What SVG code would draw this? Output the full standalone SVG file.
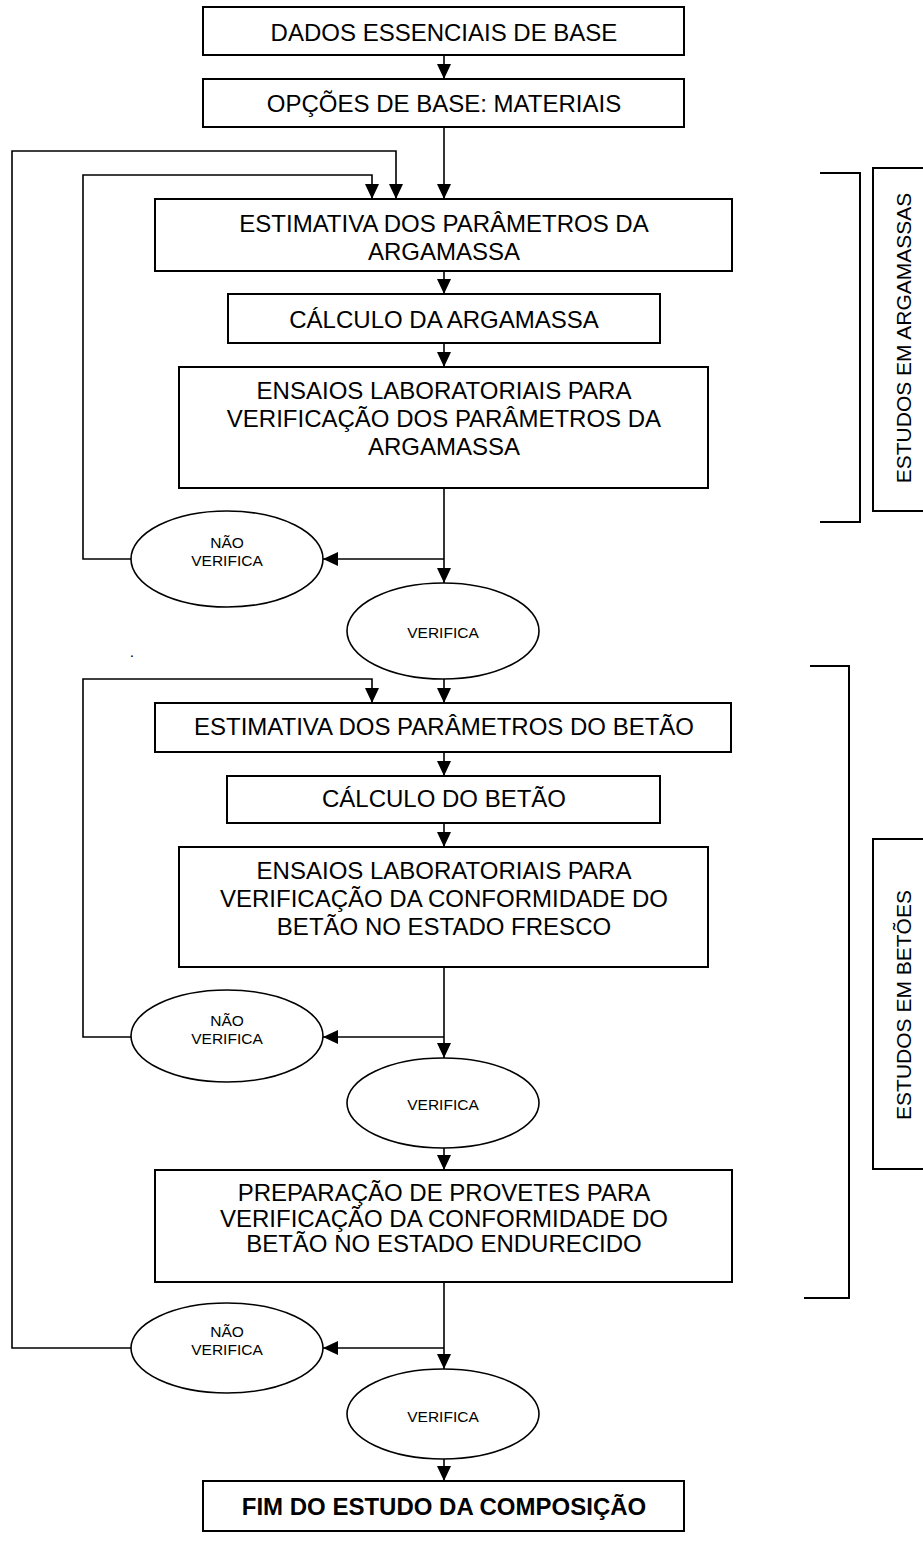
<svg xmlns="http://www.w3.org/2000/svg" width="923" height="1564" viewBox="0 0 923 1564">
<style>
.bx{fill:#fff;stroke:#000;stroke-width:2}
.el{fill:#fff;stroke:#000;stroke-width:1.6}
.ln{fill:none;stroke:#000;stroke-width:1.6}
.br{fill:none;stroke:#000;stroke-width:2}
.t{font-family:"Liberation Sans",Arial,sans-serif;font-size:24px;text-anchor:middle;fill:#000}
.s{font-family:"Liberation Sans",Arial,sans-serif;font-size:15.5px;text-anchor:middle;fill:#000}
.r{font-family:"Liberation Sans",Arial,sans-serif;font-size:21px;text-anchor:middle;fill:#000}
.b{font-weight:bold}
</style>
<defs>
<marker id="ah" markerWidth="15" markerHeight="14" refX="15" refY="7" orient="auto" markerUnits="userSpaceOnUse">
<path d="M0,0 L15,7 L0,14 Z" fill="#000"/>
</marker>
</defs>
<g id="connectors">
<path class="ln" d="M444,55 V79" marker-end="url(#ah)"/>
<path class="ln" d="M444,127 V199" marker-end="url(#ah)"/>
<path class="ln" d="M131,1348 H12 V151 H396 V199" marker-end="url(#ah)"/>
<path class="ln" d="M131,559 H83 V175 H372 V199" marker-end="url(#ah)"/>
<path class="ln" d="M444,271 V294" marker-end="url(#ah)"/>
<path class="ln" d="M444,343 V367" marker-end="url(#ah)"/>
<path class="ln" d="M444,488 V583" marker-end="url(#ah)"/>
<path class="ln" d="M444,559 H323" marker-end="url(#ah)"/>
<path class="ln" d="M444,679 V703" marker-end="url(#ah)"/>
<path class="ln" d="M131,1037 H83 V679 H372 V703" marker-end="url(#ah)"/>
<path class="ln" d="M444,752 V776" marker-end="url(#ah)"/>
<path class="ln" d="M444,823 V847" marker-end="url(#ah)"/>
<path class="ln" d="M444,967 V1058" marker-end="url(#ah)"/>
<path class="ln" d="M444,1037 H323" marker-end="url(#ah)"/>
<path class="ln" d="M444,1148 V1170" marker-end="url(#ah)"/>
<path class="ln" d="M444,1282 V1369" marker-end="url(#ah)"/>
<path class="ln" d="M444,1348 H323" marker-end="url(#ah)"/>
<path class="ln" d="M444,1459 V1481" marker-end="url(#ah)"/>
</g>
<g id="n1"><rect class="bx" x="203" y="7" width="481" height="48"/><text class="t" x="444" y="41">DADOS ESSENCIAIS DE BASE</text></g>
<g id="n2"><rect class="bx" x="203" y="79" width="481" height="48"/><text class="t" x="444" y="112">OPÇÕES DE BASE: MATERIAIS</text></g>
<g id="n3"><rect class="bx" x="155" y="199" width="577" height="72"/><text class="t" x="444" y="232">ESTIMATIVA DOS PARÂMETROS DA</text><text class="t" x="444" y="260">ARGAMASSA</text></g>
<g id="n4"><rect class="bx" x="228" y="294" width="432" height="49"/><text class="t" x="444" y="328">CÁLCULO DA ARGAMASSA</text></g>
<g id="n5"><rect class="bx" x="179" y="367" width="529" height="121"/><text class="t" x="444" y="399">ENSAIOS LABORATORIAIS PARA</text><text class="t" x="444" y="427">VERIFICAÇÃO DOS PARÂMETROS DA</text><text class="t" x="444" y="455">ARGAMASSA</text></g>
<g id="n6"><ellipse class="el" cx="227" cy="559" rx="96" ry="48"/><text class="s" x="227" y="548">NÃO</text><text class="s" x="227" y="566">VERIFICA</text></g>
<g id="n7"><ellipse class="el" cx="443" cy="631" rx="96" ry="48"/><text class="s" x="443" y="638">VERIFICA</text></g>
<text class="s" x="132" y="657">.</text>
<g id="n8"><rect class="bx" x="155" y="703" width="576" height="49"/><text class="t" x="444" y="735">ESTIMATIVA DOS PARÂMETROS DO BETÃO</text></g>
<g id="n9"><rect class="bx" x="227" y="776" width="433" height="47"/><text class="t" x="444" y="807">CÁLCULO DO BETÃO</text></g>
<g id="n10"><rect class="bx" x="179" y="847" width="529" height="120"/><text class="t" x="444" y="879">ENSAIOS LABORATORIAIS PARA</text><text class="t" x="444" y="907">VERIFICAÇÃO DA CONFORMIDADE DO</text><text class="t" x="444" y="935">BETÃO NO ESTADO FRESCO</text></g>
<g id="n11"><ellipse class="el" cx="227" cy="1036" rx="96" ry="46"/><text class="s" x="227" y="1026">NÃO</text><text class="s" x="227" y="1044">VERIFICA</text></g>
<g id="n12"><ellipse class="el" cx="443" cy="1103" rx="96" ry="45"/><text class="s" x="443" y="1110">VERIFICA</text></g>
<g id="n13"><rect class="bx" x="155" y="1170" width="577" height="112"/><text class="t" x="444" y="1201">PREPARAÇÃO DE PROVETES PARA</text><text class="t" x="444" y="1227">VERIFICAÇÃO DA CONFORMIDADE DO</text><text class="t" x="444" y="1252">BETÃO NO ESTADO ENDURECIDO</text></g>
<g id="n14"><ellipse class="el" cx="227" cy="1348" rx="96" ry="45"/><text class="s" x="227" y="1337">NÃO</text><text class="s" x="227" y="1355">VERIFICA</text></g>
<g id="n15"><ellipse class="el" cx="443" cy="1414" rx="96" ry="45"/><text class="s" x="443" y="1422">VERIFICA</text></g>
<g id="n16"><rect class="bx" x="203" y="1481" width="481" height="50"/><text class="t b" x="444" y="1515">FIM DO ESTUDO DA COMPOSIÇÃO</text></g>
<g id="grp-argamassas">
<path class="br" d="M820,173 H860 V522 H820"/>
<rect class="bx" x="873" y="168" width="70" height="343"/>
<text class="r" transform="translate(911,338) rotate(-90)">ESTUDOS EM ARGAMASSAS</text>
</g>
<g id="grp-betoes">
<path class="br" d="M810,666 H849 V1298 H804"/>
<rect class="bx" x="873" y="839" width="70" height="330"/>
<text class="r" transform="translate(911,1005) rotate(-90)">ESTUDOS EM BETÕES</text>
</g>
</svg>
